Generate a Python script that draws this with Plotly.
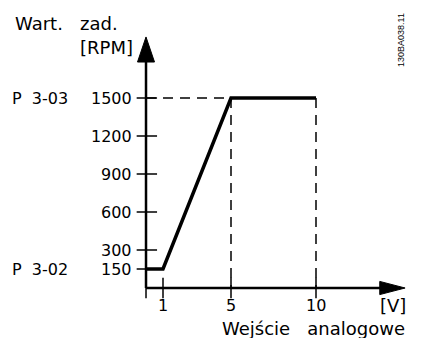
import plotly.graph_objects as go

# ---------------------------------------------------------------------------
# Dati
# ---------------------------------------------------------------------------
x_pts = [0, 1, 5, 10]
y_pts = [150, 150, 1500, 1500]

y_ticks = [150, 300, 600, 900, 1200, 1500]
y_tick_labels = ["150", "300", "600", "900", "1200", "1500"]
x_ticks = [0, 1, 5, 10]
x_tick_labels = ["", "1", "5", "10"]

par_labels = {1500: "P  3-03", 150: "P  3-02"}

y_title = "Wart.   zad."
y_unit = "[RPM]"
x_title = "Wejście   analogowe"
x_unit = "[V]"
doc_code = "130BA038.11"

FONT = "DejaVu Sans"
BLACK = "black"

# range: 17 px/V, 38 px ogni 300 RPM (compensa il margine di 8 px del body)
X_RANGE = [-8.118, 17.941]
Y_RANGE = [-457.9, 2210.5]
Y_TOP = 1982
X_END = 15.24

fig = go.Figure()


def seg(xs, ys, **line):
    fig.add_trace(go.Scatter(x=xs, y=ys, mode="lines", line=line,
                             hoverinfo="skip"))


# assi
seg([0, 0], [0, 1800], color=BLACK, width=2.5)
seg([0, 13.9], [0, 0], color=BLACK, width=2.5)

# frecce
fig.add_trace(go.Scatter(x=[-0.5, 0, 0.5, -0.5], y=[1784, Y_TOP, 1784, 1784],
                         mode="lines", fill="toself", fillcolor=BLACK,
                         line=dict(color=BLACK, width=1), hoverinfo="skip"))
fig.add_trace(go.Scatter(x=[13.75, X_END, 13.75, 13.75], y=[-52, 0, 52, -52],
                         mode="lines", fill="toself", fillcolor=BLACK,
                         line=dict(color=BLACK, width=1), hoverinfo="skip"))

# tacche
for yv in y_ticks:
    seg([-0.55, 0.65], [yv, yv], color=BLACK, width=1.5)
for xv in x_ticks:
    seg([xv, xv], [-80, 80], color=BLACK, width=1.5)

# linee tratteggiate
dash = dict(color=BLACK, width=1.5, dash="10px,7px")
seg([0, x_pts[2]], [y_pts[2], y_pts[2]], **dash)
seg([x_pts[2], x_pts[2]], [y_pts[2], 0], **dash)
seg([x_pts[3], x_pts[3]], [y_pts[3], 0], **dash)

# curva
seg(x_pts, y_pts, color=BLACK, width=3.5)

ann = []
num_font = dict(family=FONT, size=16, color=BLACK)
txt_font = dict(family=FONT, size=18, color=BLACK)
for yv, lab in zip(y_ticks, y_tick_labels):
    ann.append(dict(x=-0.7, y=yv, text=lab, xanchor="right", yanchor="middle",
                    showarrow=False, font=num_font))
for xv, lab in zip(x_ticks, x_tick_labels):
    if lab:
        ann.append(dict(x=xv, y=-142, text=lab, xanchor="center",
                        yanchor="middle", showarrow=False, font=num_font))
for yv, lab in par_labels.items():
    ann.append(dict(x=-8.0, y=yv, text=lab, xanchor="left", yanchor="middle",
                    showarrow=False, font=num_font))

ann.append(dict(x=-7.82, y=2092, text=y_title, xanchor="left",
                yanchor="middle", showarrow=False, font=txt_font))
ann.append(dict(x=-0.65, y=1895, text=y_unit, xanchor="right",
                yanchor="middle", showarrow=False, font=txt_font))
ann.append(dict(x=15.41, y=-142, text=x_unit, xanchor="right",
                yanchor="middle", showarrow=False, font=txt_font))
ann.append(dict(x=15.35, y=-316, text=x_title, xanchor="right",
                yanchor="middle", showarrow=False, font=txt_font))
ann.append(dict(x=15.0, y=1958, text=doc_code, textangle=-90,
                xanchor="center", yanchor="middle", showarrow=False,
                font=dict(family="Liberation Sans", size=9, color=BLACK)))

fig.update_layout(
    width=443, height=338,
    margin=dict(l=0, r=0, t=0, b=0),
    paper_bgcolor="white", plot_bgcolor="white",
    showlegend=False,
    xaxis=dict(range=X_RANGE, visible=False, fixedrange=True),
    yaxis=dict(range=Y_RANGE, visible=False, fixedrange=True),
    annotations=ann,
)

fig.write_html("out.html")
